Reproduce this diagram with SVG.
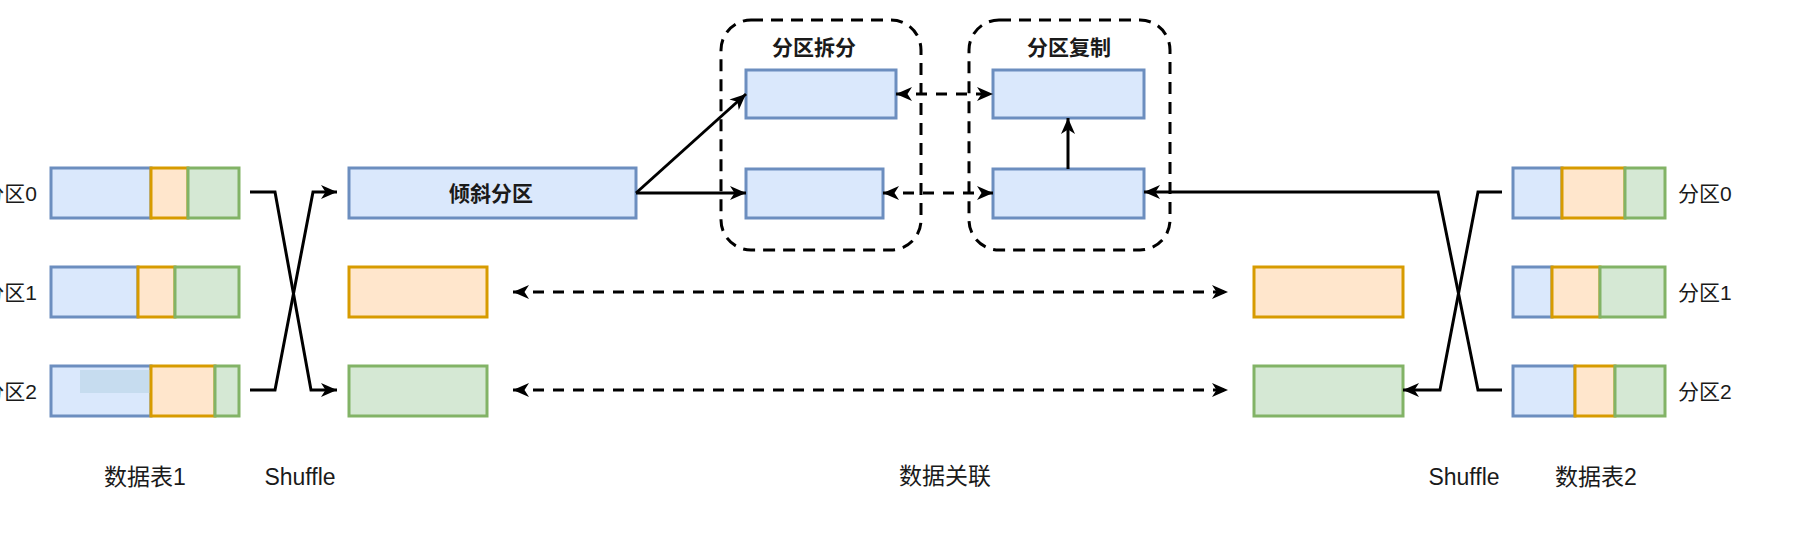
<svg xmlns="http://www.w3.org/2000/svg" width="1820" height="542" viewBox="0 0 1820 542">
<style>
.b{fill:#dae8fc;stroke:#6c8ebf;stroke-width:3}
.o{fill:#ffe6cc;stroke:#d79b00;stroke-width:3}
.g{fill:#d5e8d4;stroke:#82b366;stroke-width:3}
.grp{fill:none;stroke:#000;stroke-width:3;stroke-dasharray:12 8}
.ln{fill:none;stroke:#000;stroke-width:3}
.dl{fill:none;stroke:#000;stroke-width:3;stroke-dasharray:11 9}
text{font-family:"Liberation Sans","Noto Sans CJK SC",sans-serif;fill:#1a1a1a;dominant-baseline:central}
.lbl{font-size:21px}
.bot{font-size:23px}
.bold{font-size:21px;font-weight:bold;text-anchor:middle}
</style>
<defs>
<marker id="arr" viewBox="0 0 18 16" markerUnits="userSpaceOnUse" markerWidth="18" markerHeight="16" refX="17" refY="8" orient="auto-start-reverse">
<path d="M1,1 L17,8 L1,15 L5.5,8 Z" fill="#000"/>
</marker>
</defs>

<g id="table1">
<g id="t1r0"><rect class="b" x="51" y="168" width="100" height="50"/><rect class="o" x="151" y="168" width="37" height="50"/><rect class="g" x="188" y="168" width="51" height="50"/></g>
<g id="t1r1"><rect class="b" x="51" y="267" width="87" height="50"/><rect class="o" x="138" y="267" width="37" height="50"/><rect class="g" x="175" y="267" width="64" height="50"/></g>
<g id="t1r2"><rect class="b" x="51" y="366" width="100" height="50"/><rect x="80" y="370" width="79" height="23" fill="#c6dcef"/><rect class="o" x="151" y="366" width="64" height="50"/><rect class="g" x="215" y="366" width="24" height="50"/></g>
<text class="lbl" x="37" y="193" text-anchor="end">分区0</text>
<text class="lbl" x="37" y="292" text-anchor="end">分区1</text>
<text class="lbl" x="37" y="391" text-anchor="end">分区2</text>
<text class="bot" x="145" y="477" text-anchor="middle">数据表1</text>
</g>

<g id="table2">
<g id="t2r0"><rect class="b" x="1513" y="168" width="49" height="50"/><rect class="o" x="1562" y="168" width="63" height="50"/><rect class="g" x="1625" y="168" width="40" height="50"/></g>
<g id="t2r1"><rect class="b" x="1513" y="267" width="39" height="50"/><rect class="o" x="1552" y="267" width="48" height="50"/><rect class="g" x="1600" y="267" width="65" height="50"/></g>
<g id="t2r2"><rect class="b" x="1513" y="366" width="62" height="50"/><rect class="o" x="1575" y="366" width="40" height="50"/><rect class="g" x="1615" y="366" width="50" height="50"/></g>
<text class="lbl" x="1678" y="193">分区0</text>
<text class="lbl" x="1678" y="292">分区1</text>
<text class="lbl" x="1678" y="391">分区2</text>
<text class="bot" x="1596" y="477" text-anchor="middle">数据表2</text>
</g>

<g id="skew"><rect class="b" x="349" y="168" width="287" height="50"/><text class="bold" x="491" y="193">倾斜分区</text></g>
<g id="left-orange"><rect class="o" x="349" y="267" width="138" height="50"/></g>
<g id="left-green"><rect class="g" x="349" y="366" width="138" height="50"/></g>
<g id="right-orange"><rect class="o" x="1254" y="267" width="149" height="50"/></g>
<g id="right-green"><rect class="g" x="1254" y="366" width="149" height="50"/></g>

<g id="split-group">
<rect class="grp" x="721" y="20" width="200" height="230" rx="30"/>
<text class="bold" x="814" y="47">分区拆分</text>
<rect id="split-top" class="b" x="746" y="70" width="150" height="48"/>
<rect id="split-bot" class="b" x="746" y="169" width="137" height="49"/>
</g>

<g id="copy-group">
<rect class="grp" x="969" y="20" width="201" height="230" rx="30"/>
<text class="bold" x="1069" y="47">分区复制</text>
<rect id="copy-top" class="b" x="993" y="70" width="151" height="48"/>
<rect id="copy-bot" class="b" x="993" y="169" width="151" height="49"/>
</g>

<g id="labels">
<text class="bot" x="300" y="477" text-anchor="middle">Shuffle</text>
<text class="bot" x="945" y="476" text-anchor="middle">数据关联</text>
<text class="bot" x="1464" y="477" text-anchor="middle">Shuffle</text>
</g>

<g id="connectors">
<path class="ln" d="M250,192 L275,192 L311,390 L337,390" marker-end="url(#arr)"/>
<path class="ln" d="M250,390 L275,390 L313,192 L337,192" marker-end="url(#arr)"/>
<path class="ln" d="M636,193 L746,94" marker-end="url(#arr)"/>
<path class="ln" d="M636,193 L746,193" marker-end="url(#arr)"/>
<path class="ln" d="M1068,169 L1068,118" marker-end="url(#arr)"/>
<path class="dl" d="M896,94 L993,94" marker-start="url(#arr)" marker-end="url(#arr)"/>
<path class="dl" d="M883,193 L993,193" marker-start="url(#arr)" marker-end="url(#arr)"/>
<path class="dl" d="M513,292 L1228,292" marker-start="url(#arr)" marker-end="url(#arr)"/>
<path class="dl" d="M513,390 L1228,390" marker-start="url(#arr)" marker-end="url(#arr)"/>
<path class="ln" d="M1502,390 L1478,390 L1438,192 L1144,192" marker-end="url(#arr)"/>
<path class="ln" d="M1502,192 L1478,192 L1440,390 L1403,390" marker-end="url(#arr)"/>
</g>
</svg>
